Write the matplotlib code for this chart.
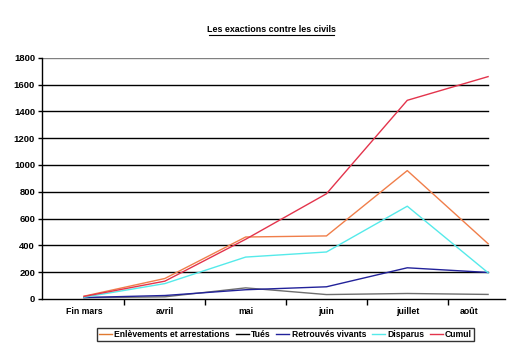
import matplotlib
matplotlib.use("Agg")
import matplotlib.pyplot as plt

plt.rcParams['font.family'] = ['Liberation Sans', 'DejaVu Sans']

categories = ["Fin mars", "avril", "mai", "juin", "juillet", "août"]
enlevements = [20, 152, 462, 470, 958, 412]
tues = [8, 15, 82, 32, 40, 33]
retrouves = [10, 25, 68, 90, 232, 197]
disparus = [12, 114, 312, 350, 692, 195]
cumul = [18, 132, 445, 785, 1483, 1660]
yticks = [0, 200, 400, 600, 800, 1000, 1200, 1400, 1600, 1800]

fig = plt.figure(figsize=(5.25, 3.64), dpi=100)
ax = fig.add_axes([0.08, 0.179, 0.882, 0.662])

x = list(range(len(categories)))
for yv in yticks[1:]:
    ax.plot([-0.52, 5.0], [yv, yv], color='#808080' if yv == 1800 else 'black',
            lw=1.0, zorder=1)

ax.plot(x, enlevements, color='#F07E4A', lw=1.0, label='Enlèvements et arrestations', zorder=3)
ax.plot(x, tues, color='#6e6e6e', lw=1.0, label='Tués', zorder=3)
ax.plot(x, retrouves, color='#22229a', lw=1.0, label='Retrouvés vivants', zorder=3)
ax.plot(x, disparus, color='#55EAEA', lw=1.0, label='Disparus', zorder=3)
ax.plot(x, cumul, color='#E3344C', lw=1.0, label='Cumul', zorder=3)

ax.set_xlim(-0.52, 5.21)
ax.set_ylim(0, 1800)
ax.set_yticks(yticks)
ax.set_yticklabels([str(v) for v in yticks], fontsize=6.8, fontweight='bold')
ax.set_xticks([0.5, 1.5, 2.5, 3.5, 4.5])
ax.set_xticklabels([])
ax.tick_params(axis='x', length=4, width=1, direction='out')
ax.tick_params(axis='y', length=3, width=1, direction='out', pad=2)
label_pos = [0, 1, 2, 3, 4, 4.77]
for xp, lab in zip(label_pos, categories):
    ax.text(xp, -60, lab, ha='center', va='top', fontsize=6.3, fontweight='bold')

for s in ['top', 'right']:
    ax.spines[s].set_visible(False)
for s in ['left', 'bottom']:
    ax.spines[s].set_linewidth(1.0)
    ax.spines[s].set_color('black')

fig.text(0.517, 0.918, "Les exactions contre les civils", ha='center', va='center',
         fontsize=6.4, fontweight='bold')
# underline
fig.add_artist(plt.Line2D([0.399, 0.636], [0.905, 0.905], color='black', lw=0.8))

leg = fig.legend(loc='center', bbox_to_anchor=(0.544, 0.081), ncol=5, frameon=True,
                 fancybox=False, edgecolor='black', prop={'weight': 'bold', 'size': 6.2},
                 handlelength=1.5, handletextpad=0.25, columnspacing=0.7, borderpad=0.25)
leg.get_frame().set_linewidth(1.0)
leg.legend_handles[0].set_color('#E07A30')
leg.legend_handles[1].set_color('black')

fig.savefig("out.png", dpi=100)
